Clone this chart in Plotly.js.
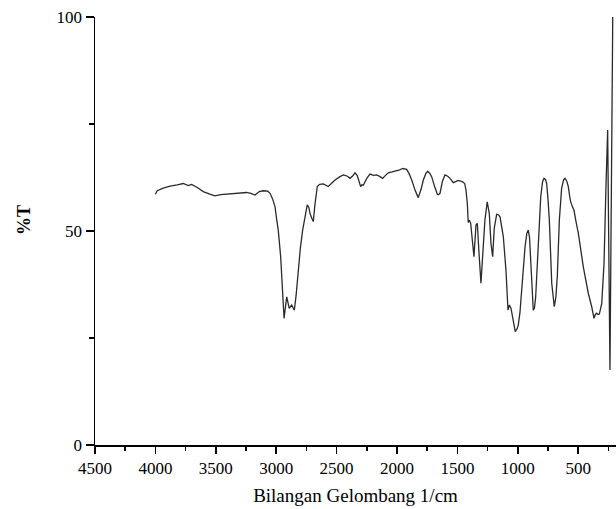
<!DOCTYPE html>
<html>
<head>
<meta charset="utf-8">
<script src="https://cdn.plot.ly/plotly-3.0.1.min.js"></script>
<style>html,body{margin:0;padding:0;background:#fff;}#chart{width:616px;height:509px;}</style>
</head>
<body>
<div id="chart"></div>
<script>
// Wavenumber (1/cm) and transmittance (%T)
const wavenumber = [
  4000, 3985, 3935, 3879, 3820, 3769, 3728, 3700, 3650, 3604, 3550, 3507, 3460, 3410, 3320, 3244, 3210, 3175, 3140, 3107,
  3070, 3051, 3030, 3010, 2995, 2983, 2963, 2946, 2935, 2913, 2902, 2892, 2872, 2850, 2835, 2817, 2800, 2781, 2760, 2743,
  2730, 2720, 2705, 2693, 2680, 2660, 2640, 2610, 2569, 2540, 2513, 2472, 2444, 2410, 2389, 2365, 2348, 2330, 2320, 2301,
  2290, 2279, 2250, 2224, 2195, 2168, 2140, 2119, 2095, 2072, 2040, 2017, 1985, 1953, 1920, 1900, 1878, 1850, 1824, 1800,
  1782, 1760, 1746, 1730, 1713, 1690, 1666, 1655, 1644, 1625, 1603, 1580, 1561, 1534, 1510, 1492, 1456, 1440, 1429, 1418,
  1410, 1401, 1390, 1377, 1363, 1346, 1335, 1321, 1305, 1286, 1272, 1253, 1236, 1222, 1208, 1195, 1175, 1160, 1147, 1120,
  1098, 1081, 1070, 1056, 1037, 1021, 1005, 996, 982, 968, 955, 940, 925, 913, 903, 893, 880, 872, 862, 852,
  840, 830, 810, 795, 783, 770, 761, 750, 739, 719, 708, 698, 685, 673, 656, 637, 620, 609, 595, 582,
  570, 562, 548, 535, 520, 499, 458, 416, 388, 369, 358, 347, 336, 325, 305, 286, 270, 256, 237, 214
];
const transmittance = [
  58.6, 59.4, 60.0, 60.5, 60.8, 61.1, 60.6, 60.9, 60.1, 59.2, 58.6, 58.2, 58.5, 58.6, 58.7, 59.0, 58.8, 58.4, 59.2, 59.4,
  59.3, 58.8, 57.5, 55.7, 52.5, 50.2, 44.0, 36.2, 29.6, 34.6, 33.0, 31.9, 32.7, 31.5, 35.0, 40.9, 46.0, 50.2, 54.0, 56.1,
  55.5, 54.1, 53.0, 52.2, 56.0, 60.4, 60.9, 61.0, 60.4, 61.2, 61.9, 62.7, 63.1, 62.8, 62.3, 62.9, 63.6, 63.0, 61.9, 60.4,
  60.8, 60.7, 62.3, 63.3, 63.0, 63.1, 62.7, 62.3, 63.0, 63.6, 63.8, 63.9, 64.2, 64.6, 64.4, 63.4, 61.9, 59.5, 57.8, 59.8,
  61.9, 63.5, 63.9, 63.5, 62.7, 60.5, 58.6, 58.5, 58.8, 61.5, 63.1, 62.8, 62.3, 61.3, 61.6, 61.8, 61.5, 61.1, 59.6, 56.5,
  52.0, 52.5, 51.8, 47.9, 44.0, 51.4, 51.8, 44.8, 37.8, 46.3, 52.6, 56.8, 54.1, 47.1, 44.0, 50.6, 53.9, 53.8, 53.3, 48.7,
  40.9, 31.5, 32.7, 31.9, 28.4, 26.5, 27.2, 28.0, 31.0, 36.2, 40.0, 46.3, 49.5, 50.2, 48.5, 44.0, 36.0, 31.5, 32.0, 34.6,
  42.0, 48.7, 58.0, 61.5, 62.3, 62.0, 61.1, 57.5, 52.6, 37.8, 34.0, 32.3, 34.5, 39.3, 52.6, 60.0, 62.0, 62.3, 61.7, 60.4,
  58.0, 56.8, 55.7, 54.9, 52.5, 49.5, 41.7, 35.4, 32.3, 29.6, 30.5, 30.8, 30.5, 30.6, 33.1, 42.5, 60.4, 73.6, 17.5, 100.0
];
const xTickValues = [4500, 4000, 3500, 3000, 2500, 2000, 1500, 1000, 500];
const yTickValues = [0, 50, 100];

const serif = "'Liberation Serif', 'Times New Roman', serif";

const trace = {
  x: wavenumber,
  y: transmittance,
  type: 'scatter',
  mode: 'lines',
  line: {color: '#2a2a2a', width: 1.3},
  hoverinfo: 'skip'
};

const layout = {
  width: 616,
  height: 509,
  margin: {l: 95, r: 0, t: 17, b: 64},
  paper_bgcolor: '#fff',
  plot_bgcolor: '#fff',
  showlegend: false,
  font: {family: serif, color: '#000', size: 17},
  xaxis: {
    range: [4500, 187],
    autorange: false,
    tickmode: 'array',
    tickvals: xTickValues,
    ticktext: xTickValues.map(String),
    ticks: 'outside',
    ticklen: 7,
    tickwidth: 1.5,
    tickcolor: '#000',
    showline: true,
    linecolor: '#000',
    linewidth: 1.5,
    showgrid: false,
    zeroline: false,
    minor: {dtick: 250, tick0: 0, ticks: 'outside', ticklen: 4, tickwidth: 1.5, tickcolor: '#000', showgrid: false},
    tickfont: {family: serif, size: 17, color: '#000'},
    title: {text: 'Bilangan Gelombang 1/cm', font: {family: serif, size: 19, color: '#000'}, standoff: 12}
  },
  yaxis: {
    range: [0, 100],
    autorange: false,
    tickmode: 'array',
    tickvals: yTickValues,
    ticktext: yTickValues.map(String),
    ticks: 'outside',
    ticklen: 8,
    tickwidth: 1.5,
    tickcolor: '#000',
    showline: true,
    linecolor: '#000',
    linewidth: 1.5,
    showgrid: false,
    zeroline: false,
    minor: {dtick: 25, tick0: 0, ticks: 'outside', ticklen: 5, tickwidth: 1.5, tickcolor: '#000', showgrid: false},
    tickfont: {family: serif, size: 17, color: '#000'}
  },
  annotations: [{
    text: '<b>%T</b>',
    xref: 'paper', yref: 'paper',
    x: (24 - 95) / 521, y: (445 - 220) / 428,
    xanchor: 'center', yanchor: 'middle',
    textangle: -90,
    showarrow: false,
    font: {family: serif, size: 18, color: '#000'}
  }]
};

Plotly.newPlot('chart', [trace], layout, {staticPlot: true, displayModeBar: false});
</script>
</body>
</html>
